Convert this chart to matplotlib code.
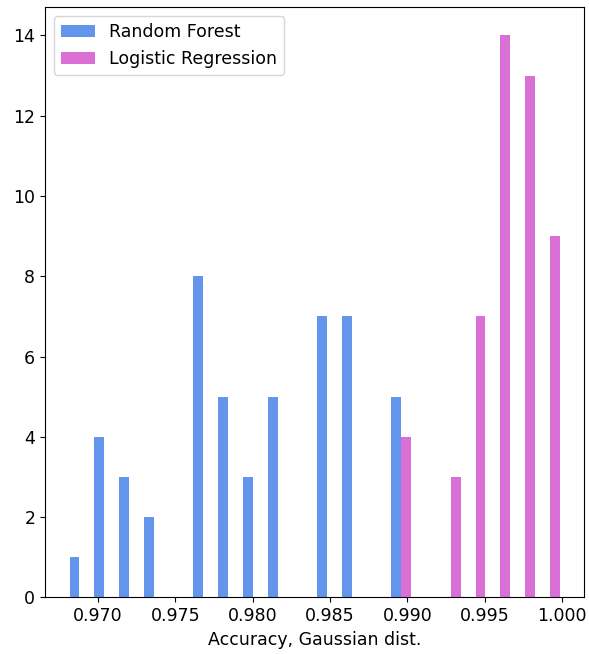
import numpy as np
import matplotlib
matplotlib.use("Agg")
from matplotlib import pyplot as plt

# histogram counts per bin (20 bins between lowest and highest accuracy)
acc_min = 0.968
acc_max = 1.000
n_bins = 20
rf_counts = [1, 4, 3, 2, 0, 8, 5, 3, 5, 0, 7, 7, 0, 5, 0, 0, 0, 0, 0, 0]
lr_counts = [0, 0, 0, 0, 0, 0, 0, 0, 0, 0, 0, 0, 0, 4, 0, 3, 7, 14, 13, 9]
labels = ['Random Forest', 'Logistic Regression']
colors = ['cornflowerblue', 'orchid']

plt.rcParams['font.size'] = 12.5

edges = np.linspace(acc_min, acc_max, n_bins + 1)
centers = (edges[:-1] + edges[1:]) / 2

fig = plt.figure(figsize=(5.89, 6.54), dpi=100)
ax = fig.add_axes([0.0764, 0.0867, 0.9156, 0.902])

ax.hist([centers, centers], bins=edges, weights=[rf_counts, lr_counts],
        color=colors, label=labels)
ax.set_xlabel('Accuracy, Gaussian dist.')
ax.legend(loc='upper left')

fig.savefig('out.png', dpi=100)
